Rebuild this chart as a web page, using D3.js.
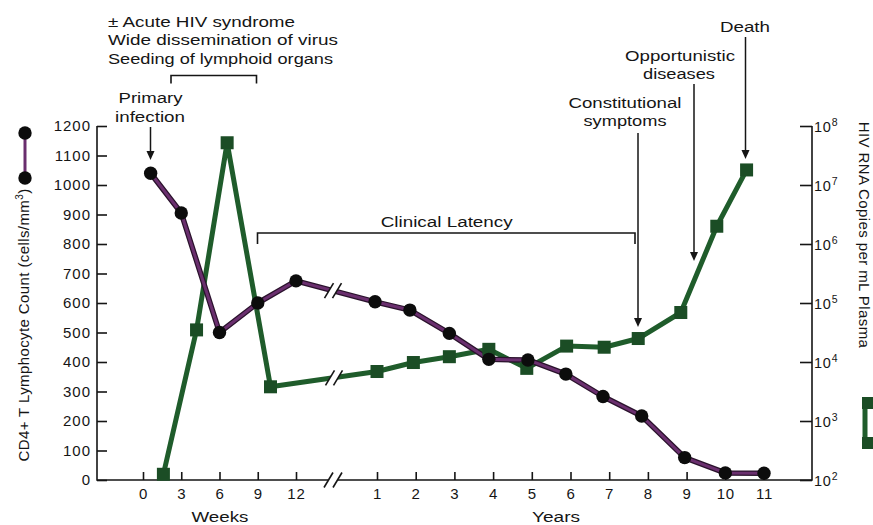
<!DOCTYPE html>
<html><head><meta charset="utf-8">
<script src="https://cdn.jsdelivr.net/npm/d3@7"></script>
<style>
body{margin:0;background:#fff}
svg{display:block}
text{font-family:"Liberation Sans",Arial,Helvetica,sans-serif;fill:#151515}
</style>
</head><body>
<svg id="c" width="873" height="525"></svg>
<script>
// ---------- data ----------
const weekTicks = [0, 3, 6, 9, 12];
const yearTicks = [1, 2, 3, 4, 5, 6, 7, 8, 9, 10, 11];
const cd4Ticks = [0, 100, 200, 300, 400, 500, 600, 700, 800, 900, 1000, 1100, 1200];
const rnaTicks = [1e2, 1e3, 1e4, 1e5, 1e6, 1e7, 1e8];

// CD4+ T lymphocyte count (cells/mm3)
const cd4WeekX = [0.6, 3, 6, 9, 12];
const cd4WeekV = [1040, 905, 500, 600, 675];
const cd4YearX = [0.95, 1.85, 2.87, 3.89, 4.9, 5.88, 6.84, 7.84, 8.95, 10, 11];
const cd4YearV = [604, 576, 497, 409, 407, 359, 283, 217, 76, 24, 23];

// HIV RNA copies per mL plasma
const rnaWeekX = [1.6, 4.2, 6.6, 10];
const rnaWeekV = [125, 35000, 5.2e7, 3800];
const rnaYearX = [1, 1.94, 2.87, 3.89, 4.87, 5.9, 6.87, 7.75, 8.85, 9.78, 10.55];
const rnaYearV = [6900, 9800, 12300, 16400, 7800, 18600, 17800, 25000, 69000, 2.0e6, 1.8e7];

// ---------- chart ----------
const svg = d3.select("#c");
const L = 97, R = 812, T = 126, B = 480, breakX = 333;
const weekX = d3.scaleLinear().domain([0, 12]).range([143, 296]);
const yearX = d3.scaleLinear().domain([1, 11]).range([377, 764]);
const yL = d3.scaleLinear().domain([0, 1200]).range([B, T]);
const yR = d3.scaleLog().domain([1e2, 1e8]).range([B, T]);

const purple = "#6a2f6e", green = "#1f5c2b", sqCol = "#1b4d25", ink = "#151515";

const cd4Pts = cd4WeekX.map((d, i) => [weekX(d), yL(cd4WeekV[i])])
  .concat(cd4YearX.map((d, i) => [yearX(d), yL(cd4YearV[i])]));
const rnaPts = rnaWeekX.map((d, i) => [weekX(d), yR(rnaWeekV[i])])
  .concat(rnaYearX.map((d, i) => [yearX(d), yR(rnaYearV[i])]));

// axes
const ax = svg.append("g");
ax.append("path").attr("d", `M${L},${T}V${B}H${R}V${T}`).attr("fill", "none").attr("stroke", ink).attr("stroke-width", 1.6);

const gl = svg.append("g").attr("transform", `translate(${L},0)`)
  .call(d3.axisLeft(yL).tickValues(cd4Ticks).tickSize(-10).tickPadding(6).tickFormat(d3.format("d")));
gl.select(".domain").remove();
gl.selectAll("line").attr("stroke", ink).attr("stroke-width", 1.6);
gl.selectAll("text").attr("font-size", 15).attr("letter-spacing", 1).attr("font-family", null).attr("fill", ink);

const gr = svg.append("g").attr("transform", `translate(${R},0)`)
  .call(d3.axisRight(yR).tickValues(rnaTicks).tickSize(-12).tickFormat(""));
gr.select(".domain").remove();
gr.selectAll("line").attr("stroke", ink).attr("stroke-width", 1.6);
gr.selectAll(".tick").each(function (d) {
  const t = d3.select(this).append("text").attr("x", 2).attr("y", 5).attr("font-size", 14.5)
    .attr("letter-spacing", 0.8).attr("text-anchor", "start").attr("fill", ink);
  t.append("tspan").text("10");
  t.append("tspan").attr("font-size", 10.5).attr("dy", -6).text(String(Math.round(Math.log10(d))));
});

function bottomAxis(scale, ticks) {
  const g = svg.append("g").attr("transform", `translate(0,${B})`)
    .call(d3.axisBottom(scale).tickValues(ticks).tickSize(-8).tickPadding(8).tickFormat(d3.format("d")));
  g.select(".domain").remove();
  g.selectAll("line").attr("stroke", ink).attr("stroke-width", 1.6);
  g.selectAll("text").attr("font-size", 15).attr("letter-spacing", 0.8).attr("font-family", null).attr("fill", ink);
}
bottomAxis(weekX, weekTicks);
bottomAxis(yearX, yearTicks);

// break marks
function breakMark(x, y, gap, sw) {
  const g = svg.append("g");
  g.append("path").attr("d", `M${x - gap / 2 - 4},${y + 7}L${x - gap / 2 + 4},${y - 7}L${x + gap / 2 + 4},${y - 7}L${x + gap / 2 - 4},${y + 7}Z`)
    .attr("fill", "#fff");
  [-gap / 2, gap / 2].forEach(o => g.append("line")
    .attr("x1", x + o - 4.5).attr("y1", y + 7.5).attr("x2", x + o + 4.5).attr("y2", y - 7.5)
    .attr("stroke", ink).attr("stroke-width", sw));
}
function yAtBreak(pts) {
  const i = pts.findIndex(p => p[0] > breakX);
  const a = pts[i - 1], b = pts[i];
  return a[1] + (b[1] - a[1]) * (breakX - a[0]) / (b[0] - a[0]);
}

const line = d3.line();
// green line
svg.append("path").attr("d", line(rnaPts)).attr("fill", "none").attr("stroke", green)
  .attr("stroke-width", 5).attr("stroke-linejoin", "round");
// purple line
svg.append("path").attr("d", line(cd4Pts)).attr("fill", "none").attr("stroke", "#2a122c")
  .attr("stroke-width", 5.5).attr("stroke-linejoin", "round");
svg.append("path").attr("d", line(cd4Pts)).attr("fill", "none").attr("stroke", purple)
  .attr("stroke-width", 3).attr("stroke-linejoin", "round");

breakMark(breakX + 1, yAtBreak(rnaPts), 8, 1.6);
breakMark(breakX, yAtBreak(cd4Pts), 8, 1.6);
breakMark(breakX, B, 9, 1.6);

// markers
svg.append("g").selectAll("rect").data(rnaPts).join("rect")
  .attr("x", d => d[0] - 6.5).attr("y", d => d[1] - 6.5).attr("width", 13).attr("height", 13)
  .attr("fill", sqCol);
svg.append("g").selectAll("circle").data(cd4Pts).join("circle")
  .attr("cx", d => d[0]).attr("cy", d => d[1]).attr("r", 6.7).attr("fill", "#0c0c0c");

// axis titles
svg.append("text").attr("transform", "translate(29,325) rotate(-90)").attr("text-anchor", "middle")
  .attr("font-size", 15).attr("letter-spacing", 0.4)
  .call(t => {
    t.append("tspan").text("CD4+ T Lymphocyte Count (cells/mm");
    t.append("tspan").attr("font-size", 10).attr("dy", -6).text("3");
    t.append("tspan").attr("dy", 6).text(")");
  });
svg.append("text").attr("transform", "translate(859,235) rotate(90)").attr("text-anchor", "middle")
  .attr("font-size", 15).attr("letter-spacing", 0.4).text("HIV RNA Copies per mL Plasma");

svg.append("text").attr("x", 220).attr("y", 522).attr("text-anchor", "middle").attr("font-size", 15.5)
  .attr("textLength", 57).attr("lengthAdjust", "spacingAndGlyphs").text("Weeks");
svg.append("text").attr("x", 556).attr("y", 522).attr("text-anchor", "middle").attr("font-size", 15.5)
  .attr("textLength", 48).attr("lengthAdjust", "spacingAndGlyphs").text("Years");

// legend keys
svg.append("line").attr("x1", 25).attr("x2", 25).attr("y1", 133).attr("y2", 178).attr("stroke", purple).attr("stroke-width", 3);
[133, 178].forEach(y => svg.append("circle").attr("cx", 25).attr("cy", y).attr("r", 6.7).attr("fill", "#0c0c0c"));
svg.append("line").attr("x1", 865).attr("x2", 865).attr("y1", 403).attr("y2", 443).attr("stroke", green).attr("stroke-width", 5);
[403, 443].forEach(y => svg.append("rect").attr("x", 862).attr("y", y - 6).attr("width", 13).attr("height", 12).attr("fill", sqCol));

// annotations
function label(x, y, s, w, anchor) {
  svg.append("text").attr("x", x).attr("y", y).attr("text-anchor", anchor || "middle")
    .attr("font-size", 15.5).attr("textLength", w).attr("lengthAdjust", "spacingAndGlyphs").text(s);
}
label(108, 27, "± Acute HIV syndrome", 187, "start");
label(108, 45, "Wide dissemination of virus", 230, "start");
label(108, 64, "Seeding of lymphoid organs", 225, "start");
label(150.5, 102.5, "Primary", 64);
label(150, 121.5, "infection", 70);
label(446.7, 226.5, "Clinical Latency", 132);
label(625, 108.3, "Constitutional", 113);
label(625, 126, "symptoms", 83);
label(680, 61, "Opportunistic", 110);
label(679, 79, "diseases", 72);
label(745, 32.3, "Death", 50);

// brackets
function bracket(x1, x2, y, h) {
  svg.append("path").attr("d", `M${x1},${y + h}V${y}H${x2}V${y + h}`).attr("fill", "none")
    .attr("stroke", ink).attr("stroke-width", 1.6);
}
bracket(171, 256.5, 75.5, 8);
bracket(257.5, 635, 233, 11);

// arrows
function arrow(x, y1, y2) {
  svg.append("line").attr("x1", x).attr("x2", x).attr("y1", y1).attr("y2", y2 - 6)
    .attr("stroke", ink).attr("stroke-width", 1.5);
  svg.append("path").attr("d", `M${x - 4},${y2 - 9}L${x + 4},${y2 - 9}L${x},${y2}Z`).attr("fill", ink);
}
arrow(150.5, 127, 160);
arrow(638, 133, 327);
arrow(694, 84, 261);
arrow(745.5, 37, 159);
</script>
</body></html>
